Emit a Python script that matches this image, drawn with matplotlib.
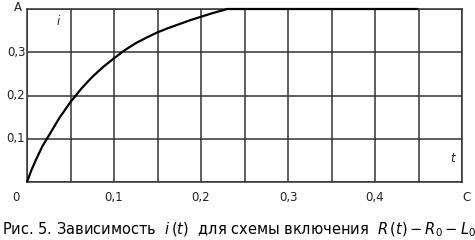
import matplotlib
matplotlib.use('Agg')
import matplotlib.pyplot as plt
import numpy as np

# current curve i(t)
t_vals = [0.0, 0.005, 0.01, 0.0175, 0.025, 0.0375, 0.05, 0.0625, 0.075, 0.0875,
          0.1, 0.1125, 0.125, 0.1375, 0.15, 0.1625, 0.175, 0.1875, 0.2,
          0.2125, 0.225, 0.23, 0.45]
i_vals = [0.0, 0.027, 0.05, 0.082, 0.107, 0.149, 0.185, 0.216, 0.243, 0.266,
          0.286, 0.305, 0.321, 0.334, 0.346, 0.356, 0.365, 0.374, 0.382,
          0.390, 0.397, 0.400, 0.400]

x_ticks = [0.1, 0.2, 0.3, 0.4]
x_labels = ['0,1', '0,2', '0,3', '0,4']
y_ticks = [0.1, 0.2, 0.3]
y_labels = ['0,1', '0,2', '0,3']

caption = 'Рис. 5. Зависимость  $i\\,(t)$  для схемы включения  $R\\,(t) - R_0 - L_0$'

fig = plt.figure(figsize=(4.75, 2.4), dpi=100)
ax = fig.add_axes([27 / 475, 1 - 182 / 240, 435 / 475, 173 / 240])

ax.set_xlim(0, 0.5)
ax.set_ylim(0, 0.4)
ax.set_xticks(np.arange(0, 0.5001, 0.05))
ax.set_yticks(np.arange(0, 0.4001, 0.1))
ax.grid(True, color='#333333', linewidth=1.1)
ax.tick_params(length=0, labelleft=False, labelbottom=False)
for s in ax.spines.values():
    s.set_color('#333333')
    s.set_linewidth(1.1)

ax.plot(t_vals, i_vals, color='black', linewidth=1.6, clip_on=False,
        solid_capstyle='butt', zorder=5)

# tick labels placed by data coords
for x, lab in zip(x_ticks, x_labels):
    ax.text(x, -0.02, lab, ha='center', va='top', fontsize=8.5, color='#222222')
for y, lab in zip(y_ticks, y_labels):
    ax.text(-0.002, y, lab, ha='right', va='center', fontsize=8.5, color='#222222')
ax.text(-0.013, -0.02, '0', ha='center', va='top', fontsize=8.5, color='#222222')
ax.text(0.505, -0.02, 'С', ha='center', va='top', fontsize=8.5, color='#222222')
ax.text(-0.011, 0.404, 'A', ha='center', va='center', fontsize=8.5, color='#222222')

ax.text(0.036, 0.37, 'i', fontsize=8.5, style='italic', ha='center', va='center',
        color='#222222')
ax.text(0.489, 0.055, 't', fontsize=8.5, style='italic', ha='center', va='center',
        color='#222222')

fig.text(0.004, 0.022, caption, fontsize=10.5, ha='left', va='baseline', color='black')

fig.savefig('out.png', dpi=100)
